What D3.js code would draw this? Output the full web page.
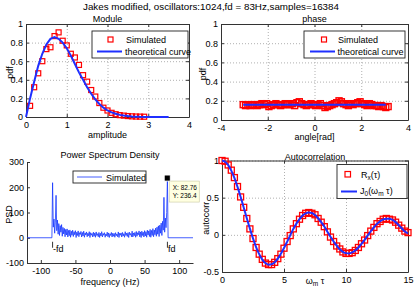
<!DOCTYPE html>
<html>
<head>
<meta charset="utf-8">
<script src="https://cdn.jsdelivr.net/npm/d3@7"></script>
<style>
body { margin: 0; background: #fff; }
svg { font-family: "Liberation Sans", Arial, sans-serif; }
</style>
</head>
<body>
<script>
// Module: simulated amplitude histogram + theoretical curve
let ampBins = [0.1,0.2,0.3,0.4,0.5,0.6,0.7,0.8,0.9,1.0,1.1,1.2,1.3,1.4,1.5,1.6,1.7,1.8,1.9,2.0,2.1,2.2,2.3,2.4,2.5,2.6,2.7,2.8,2.9];
let ampSim = [0.12,0.32,0.47,0.60,0.73,0.75,0.87,0.91,0.82,0.77,0.68,0.64,0.56,0.45,0.38,0.29,0.22,0.15,0.10,0.07,0.045,0.03,0.02,0.015,0.01,0.007,0.005,0.004,0.003];
let ampTheoryX = [0,0.1,0.2,0.3,0.4,0.5,0.6,0.7,0.8,0.9,1.0,1.1,1.2,1.3,1.4,1.5,1.6,1.7,1.8,1.9,2.0,2.1,2.2,2.3,2.4,2.5,2.6,2.7,2.8,2.9,3.0,3.1,3.2,3.3,3.4,3.5];
let ampTheory = [0,0.20,0.38,0.55,0.68,0.78,0.84,0.86,0.84,0.80,0.74,0.66,0.57,0.48,0.40,0.32,0.25,0.19,0.14,0.10,0.07,0.05,0.035,0.023,0.015,0.01,0.006,0.004,0.002,0.001,0,0,0,0,0,0];

// phase: simulated histogram (bins of 0.1 rad from -3.05) + flat theoretical curve
let phaseStart = -3.05, phaseStep = 0.1;
let phaseSim = [0.16,0.15,0.16,0.15,0.16,0.16,0.15,0.16,0.17,0.16,
	0.17,0.14,0.15,0.16,0.17,0.16,0.15,0.16,0.17,0.16,
	0.16,0.17,0.15,0.18,0.19,0.17,0.16,0.15,0.16,0.17,
	0.16,0.15,0.16,0.17,0.15,0.13,0.14,0.15,0.16,0.17,
	0.18,0.20,0.19,0.17,0.16,0.15,0.17,0.16,0.17,0.18,
	0.19,0.17,0.16,0.15,0.17,0.16,0.15,0.15,0.14,0.15,
	0.14,0.13,0.14];
let phaseTheoryX = [-3.05, 3.05];
let phaseTheory = [0.159, 0.159];

// Power Spectrum Density: 1 Hz steps from -83 Hz to 83 Hz, zero outside
let psdStart = -83, psdStep = 1;
let psdVal = [218,42,74,18,62,168,28,70,14,56,
	9,48,22,52,6,41,15,37,4,33,
	11,35,3,29,8,31,2,26,10,30,
	5,24,12,28,1,22,9,27,4,20,
	13,25,3,21,7,26,2,19,11,23,
	4,18,8,24,1,20,10,17,3,22,
	6,19,2,23,9,16,4,21,1,18,
	7,24,3,17,10,20,2,15,8,22,
	4,19,1,16,9,21,3,18,6,17,
	2,20,8,15,4,23,1,18,10,19,
	3,21,7,16,2,24,9,18,5,20,
	1,22,11,17,4,26,3,19,8,21,
	2,25,6,20,12,27,4,23,1,26,
	9,22,3,28,7,24,2,30,11,27,
	5,33,2,29,9,36,4,31,12,38,
	6,42,14,47,5,50,18,58,9,65,
	30,160,22,78,40,100,236.4];
let psdFlat = [-120, 120];
let fd = 83;
let tipX = 82.76, tipY = 236.4;

// Autocorrelation
let tau = [0,0.25,0.5,0.75,1,1.25,1.5,1.75,2,2.25,2.5,2.75,3,3.25,3.5,3.75,4,4.25,4.5,4.75,
	5,5.25,5.5,5.75,6,6.25,6.5,6.75,7,7.25,7.5,7.75,8,8.25,8.5,8.75,9,9.25,9.5,9.75,
	10,10.25,10.5,10.75,11,11.25,11.5,11.75,12,12.25,12.5,12.75,13,13.25,13.5,13.75,14,14.25,14.5,14.75,15];
let rxSim = [1,0.99,0.94,0.87,0.77,0.65,0.51,0.37,0.22,0.08,-0.05,-0.17,-0.26,-0.33,-0.38,-0.40,-0.40,-0.37,-0.32,-0.26,
	-0.18,-0.09,-0.01,0.08,0.15,0.21,0.26,0.29,0.30,0.29,0.27,0.22,0.17,0.11,0.04,-0.03,-0.09,-0.15,-0.19,-0.23,
	-0.25,-0.25,-0.24,-0.21,-0.17,-0.12,-0.07,-0.01,0.05,0.10,0.15,0.18,0.21,0.22,0.21,0.20,0.17,0.13,0.09,0.05,0.03];
let j0Theory = [1,0.984,0.938,0.864,0.765,0.646,0.512,0.369,0.224,0.083,-0.048,-0.164,-0.260,-0.333,-0.380,-0.401,-0.397,-0.370,-0.321,-0.255,
	-0.178,-0.094,-0.007,0.078,0.151,0.212,0.260,0.289,0.300,0.294,0.266,0.223,0.172,0.111,0.042,-0.026,-0.090,-0.145,-0.194,-0.228,
	-0.246,-0.250,-0.237,-0.210,-0.171,-0.122,-0.068,-0.009,0.048,0.100,0.147,0.183,0.207,0.218,0.215,0.201,0.171,0.130,0.088,0.045,0.02];

let fontSize = 9;
let red = '#ff0000', blue = '#1f2fff', psdBlue = '#1536ff';

let svg = d3.select('body').append('svg')
	.attr('width', 415)
	.attr('height', 291);

//main title
svg.append('text')
	.attr('x', 211).attr('y', 9.5)
	.attr('text-anchor', 'middle')
	.attr('font-size', 9.8)
	.text('Jakes modified, oscillators:1024,fd = 83Hz,samples=16384');

//draws a frame: grid, axes, box, labels
function drawFrame(g, x, y, w, h, cfg) {
	if (cfg.grid) {
		g.append('g')
			.attr('transform', 'translate(0,' + h + ')')
			.call(d3.axisBottom(x).tickValues(cfg.xTicks).tickSize(-h).tickFormat(''))
			.call(a => a.select('.domain').remove())
			.selectAll('line').attr('stroke', '#b0b0b0').attr('stroke-dasharray', '1,2');
		g.append('g')
			.call(d3.axisLeft(y).tickValues(cfg.yTicks).tickSize(-w).tickFormat(''))
			.call(a => a.select('.domain').remove())
			.selectAll('line').attr('stroke', '#b0b0b0').attr('stroke-dasharray', '1,2');
	}
	let bottom = g.append('g')
		.attr('transform', 'translate(0,' + h + ')')
		.call(d3.axisBottom(x).tickValues(cfg.xTicks).tickSizeInner(-3).tickSizeOuter(0).tickPadding(4.5)
			.tickFormat(d => String(d)));
	let left = g.append('g')
		.call(d3.axisLeft(y).tickValues(cfg.yTicks).tickSizeInner(-3).tickSizeOuter(0).tickPadding(3)
			.tickFormat(d => String(d)));
	let parts = [bottom, left];
	if (cfg.box) {
		parts.push(g.append('g')
			.call(d3.axisTop(x).tickValues(cfg.xTicks).tickSizeInner(-3).tickSizeOuter(0).tickFormat('')));
		parts.push(g.append('g')
			.attr('transform', 'translate(' + w + ',0)')
			.call(d3.axisRight(y).tickValues(cfg.yTicks).tickSizeInner(-3).tickSizeOuter(0).tickFormat('')));
	}
	parts.forEach(function(p) {
		p.attr('font-size', fontSize).attr('font-family', null);
		p.selectAll('.domain, line').attr('stroke', '#333');
		p.selectAll('text').attr('fill', '#000');
	});
	//title
	g.append('text')
		.attr('x', w / 2).attr('y', cfg.titleY)
		.attr('text-anchor', 'middle').attr('font-size', fontSize)
		.text(cfg.title);
	//x label
	if (cfg.xLabel) {
		g.append('text')
			.attr('x', w / 2).attr('y', cfg.xLabelY)
			.attr('text-anchor', 'middle').attr('font-size', fontSize)
			.text(cfg.xLabel);
	}
	//y label
	g.append('text')
		.attr('transform', 'translate(' + cfg.yLabelX + ',' + (h / 2 + 2) + ') rotate(-90)')
		.attr('text-anchor', 'middle').attr('font-size', fontSize)
		.text(cfg.yLabel);
}

function squares(g, pts, size, sw) {
	g.append('g').selectAll('rect')
		.data(pts)
		.enter()
		.append('rect')
		.attr('x', d => d[0] - size / 2)
		.attr('y', d => d[1] - size / 2)
		.attr('width', size).attr('height', size)
		.attr('fill', 'none')
		.attr('stroke', red)
		.attr('stroke-width', sw || 1.2);
}

function legendBox(g, x0, y0, w, h) {
	g.append('rect')
		.attr('x', x0).attr('y', y0).attr('width', w).attr('height', h)
		.attr('fill', '#fff').attr('stroke', '#222').attr('stroke-width', 0.9);
}

///Module///
function drawModule() {
	let w = 163, h = 93;
	let g = svg.append('g').attr('transform', 'translate(26,24)');
	let x = d3.scaleLinear().domain([0, 4]).range([0, w]);
	let y = d3.scaleLinear().domain([0, 1]).range([h, 0]);
	drawFrame(g, x, y, w, h, {
		grid: true, box: true,
		xTicks: [0, 1, 2, 3, 4], yTicks: [0, 0.2, 0.4, 0.6, 0.8, 1],
		title: 'Module', titleY: -2.5,
		xLabel: 'amplitude', xLabelY: 113.5,
		yLabel: 'pdf', yLabelX: -13.5
	});
	squares(g, ampBins.map((b, i) => [x(b), y(ampSim[i])]), 5);
	let line = d3.line().x(d => x(d[0])).y(d => y(d[1]));
	g.append('path')
		.datum(ampTheoryX.map((a, i) => [a, ampTheory[i]]))
		.attr('d', line).attr('fill', 'none')
		.attr('stroke', blue).attr('stroke-width', 2);
	//legend
	legendBox(g, 66, 7, 96, 27);
	g.append('rect').attr('x', 82).attr('y', 13).attr('width', 5).attr('height', 5)
		.attr('fill', 'none').attr('stroke', red).attr('stroke-width', 1.2);
	g.append('text').attr('x', 100).attr('y', 18.5).attr('font-size', fontSize).text('Simulated');
	g.append('line').attr('x1', 71).attr('x2', 96).attr('y1', 27.5).attr('y2', 27.5)
		.attr('stroke', blue).attr('stroke-width', 2);
	g.append('text').attr('x', 99).attr('y', 30.5).attr('font-size', fontSize).text('theoretical curve');
}

///phase///
function drawPhase() {
	let w = 187, h = 96;
	let g = svg.append('g').attr('transform', 'translate(221,24)');
	let x = d3.scaleLinear().domain([-4, 4]).range([0, w]);
	let y = d3.scaleLinear().domain([0, 1]).range([h, 0]);
	drawFrame(g, x, y, w, h, {
		grid: true, box: true,
		xTicks: [-4, -2, 0, 2, 4], yTicks: [0, 0.2, 0.4, 0.6, 0.8, 1],
		title: 'phase', titleY: -2.5,
		xLabel: 'angle[rad]', xLabelY: 116,
		yLabel: 'pdf', yLabelX: -15
	});
	squares(g, phaseSim.map((v, i) => [x(phaseStart + i * phaseStep), y(v)]), 6, 1.4);
	let line = d3.line().x(d => x(d[0])).y(d => y(d[1]));
	g.append('path')
		.datum(phaseTheoryX.map((a, i) => [a, phaseTheory[i]]))
		.attr('d', line).attr('fill', 'none')
		.attr('stroke', blue).attr('stroke-width', 2);
	//legend
	legendBox(g, 83, 7, 101, 27);
	g.append('rect').attr('x', 100.5).attr('y', 13).attr('width', 5).attr('height', 5)
		.attr('fill', 'none').attr('stroke', red).attr('stroke-width', 1.2);
	g.append('text').attr('x', 117).attr('y', 18.5).attr('font-size', fontSize).text('Simulated');
	g.append('line').attr('x1', 89).attr('x2', 114).attr('y1', 27.5).attr('y2', 27.5)
		.attr('stroke', blue).attr('stroke-width', 2);
	g.append('text').attr('x', 116.5).attr('y', 30.5).attr('font-size', fontSize).text('theoretical curve');
}

///Power Spectrum Density///
function drawPSD() {
	let w = 166, h = 101;
	let g = svg.append('g').attr('transform', 'translate(27,162)');
	let x = d3.scaleLinear().domain([-120, 120]).range([0, w]);
	let y = d3.scaleLinear().domain([-100, 300]).range([h, 0]);
	drawFrame(g, x, y, w, h, {
		grid: false, box: false,
		xTicks: [-100, -50, 0, 50, 100], yTicks: [-100, 0, 100, 200, 300],
		title: 'Power Spectrum Density', titleY: -4,
		xLabel: 'frequency (Hz)', xLabelY: 123,
		yLabel: 'PSD', yLabelX: -15
	});
	let pts = [[psdFlat[0], 0], [psdStart - psdStep, 0]];
	psdVal.forEach((v, i) => pts.push([psdStart + i * psdStep, v]));
	pts.push([psdStart + psdVal.length * psdStep, 0]);
	pts.push([psdFlat[1], 0]);
	g.append('path')
		.datum(pts)
		.attr('d', d3.line().x(d => x(d[0])).y(d => y(d[1])))
		.attr('fill', 'none')
		.attr('stroke', psdBlue)
		.attr('stroke-width', 0.8);
	//fd markers
	[-fd, fd].forEach(function(f) {
		g.append('line')
			.attr('x1', x(f)).attr('x2', x(f))
			.attr('y1', y(0) + 4).attr('y2', y(0) + 10)
			.attr('stroke', '#000').attr('stroke-width', 0.8);
		g.append('text')
			.attr('x', x(f) + 0.5).attr('y', y(0) + 14)
			.attr('font-size', fontSize)
			.text(f < 0 ? '-fd' : 'fd');
	});
	//legend
	legendBox(g, 46, 9, 73, 12);
	g.append('line').attr('x1', 50).attr('x2', 75).attr('y1', 15).attr('y2', 15)
		.attr('stroke', psdBlue).attr('stroke-width', 0.8);
	g.append('text').attr('x', 79).attr('y', 18.5).attr('font-size', fontSize).text('Simulated');
	//data tip
	let tx = x(tipX), ty = y(tipY);
	g.append('rect')
		.attr('x', tx + 2).attr('y', ty + 3).attr('width', 30).attr('height', 21)
		.attr('fill', '#ffffe1').attr('stroke', '#c8c8a0').attr('stroke-width', 0.6);
	g.append('text').attr('x', tx + 5.5).attr('y', ty + 12).attr('font-size', 6.5).text('X: ' + tipX);
	g.append('text').attr('x', tx + 5.5).attr('y', ty + 20).attr('font-size', 6.5).text('Y: ' + tipY);
	g.append('rect')
		.attr('x', tx - 3).attr('y', ty - 3).attr('width', 6).attr('height', 6)
		.attr('fill', '#000').attr('stroke', '#fff').attr('stroke-width', 0.8);
}

///Autocorrelation///
function drawAutocorr() {
	let w = 186, h = 111.5;
	let g = svg.append('g').attr('transform', 'translate(222,160.5)');
	let x = d3.scaleLinear().domain([0, 15]).range([0, w]);
	let y = d3.scaleLinear().domain([-0.5, 1]).range([h, 0]);
	drawFrame(g, x, y, w, h, {
		grid: true, box: true,
		xTicks: [0, 5, 10, 15], yTicks: [-0.5, 0, 0.5, 1],
		title: 'Autocorrelation', titleY: -0.5,
		yLabel: 'autocorr', yLabelX: -13
	});
	//x label sits on the tick label row
	let xl = g.append('text')
		.attr('x', x(7.5)).attr('y', h + 11.5)
		.attr('text-anchor', 'middle').attr('font-size', fontSize);
	xl.append('tspan').text('ω');
	xl.append('tspan').attr('font-size', 6.5).attr('dy', 2).text('m');
	xl.append('tspan').attr('dy', -2).text(' τ');

	squares(g, tau.map((t, i) => [x(t), y(rxSim[i])]), 6, 1.3);
	g.append('path')
		.datum(tau.map((t, i) => [t, j0Theory[i]]))
		.attr('d', d3.line().curve(d3.curveMonotoneX).x(d => x(d[0])).y(d => y(d[1])))
		.attr('fill', 'none')
		.attr('stroke', blue).attr('stroke-width', 2);
	//legend
	legendBox(g, 115, 4, 70, 34);
	g.append('rect').attr('x', 123).attr('y', 11).attr('width', 5.5).attr('height', 5.5)
		.attr('fill', 'none').attr('stroke', red).attr('stroke-width', 1.2);
	let t1 = g.append('text').attr('x', 139).attr('y', 17).attr('font-size', fontSize);
	t1.append('tspan').text('R');
	t1.append('tspan').attr('font-size', 6.5).attr('dy', 2).text('x');
	t1.append('tspan').attr('dy', -2).text('(τ)');
	g.append('line').attr('x1', 119).attr('x2', 135).attr('y1', 31).attr('y2', 31)
		.attr('stroke', blue).attr('stroke-width', 2);
	let t2 = g.append('text').attr('x', 138).attr('y', 33).attr('font-size', fontSize);
	t2.append('tspan').text('J');
	t2.append('tspan').attr('font-size', 6.5).attr('dy', 2).text('0');
	t2.append('tspan').attr('dy', -2).text('(ω');
	t2.append('tspan').attr('font-size', 6.5).attr('dy', 2).text('m');
	t2.append('tspan').attr('dy', -2).text(' τ)');
}

drawModule();
drawPhase();
drawPSD();
drawAutocorr();
</script>
</body>
</html>
